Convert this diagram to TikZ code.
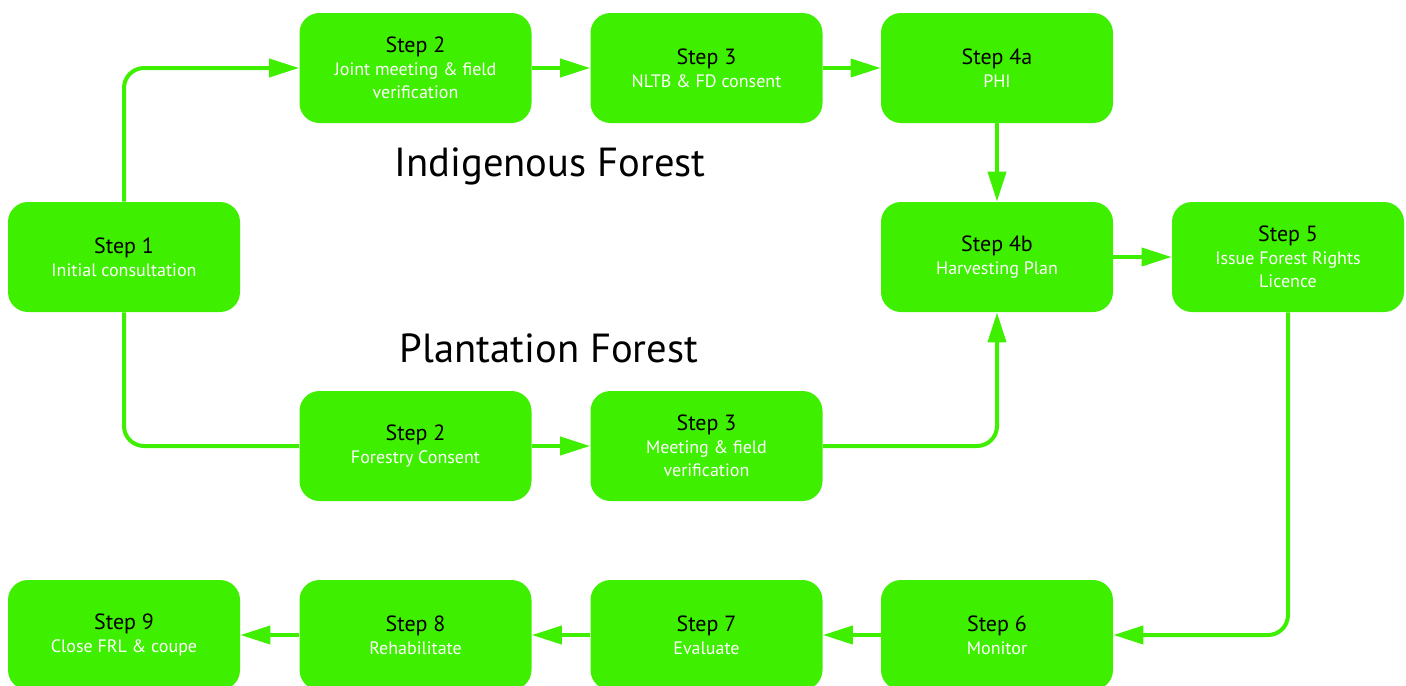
\documentclass[tikz,border=0pt]{standalone}
\usepackage{fontspec}
\setmainfont{PT Sans}
\usetikzlibrary{arrows.meta}
\definecolor{leaf}{RGB}{62,240,0}
\newcommand{\stepname}[1]{{\color{black}\fontsize{11}{12}\selectfont #1}\\[0pt]}

\begin{document}
\begin{tikzpicture}[x=0.5pt,y=-0.5pt,
  stepbox/.style={fill=leaf, rounded corners=10pt, minimum width=116pt, minimum height=55pt,
    align=center, inner sep=0pt, text=white, font=\fontsize{9}{11.5}\selectfont},
  title/.style={font=\fontsize{20.3}{24}\selectfont},
  link/.style={draw=leaf, line width=2pt, rounded corners=10pt, -{Triangle[length=15pt,width=9pt]}},
  plain/.style={draw=leaf, line width=2pt, rounded corners=10pt}]
\useasboundingbox (0,0) rectangle (1406,685);

% steps
\node[stepbox] (s1) at (124,257) {\stepname{Step 1}Initial consultation};
\node[stepbox] (i2) at (415.5,68) {\stepname{Step 2}Joint meeting \& field\\verification};
\node[stepbox] (i3) at (706.5,68) {\stepname{Step 3}NLTB \& FD consent};
\node[stepbox] (i4a) at (997,68) {\stepname{Step 4a}PHI};
\node[stepbox] (h4b) at (997,257) {\stepname{Step 4b}Harvesting Plan};
\node[stepbox] (s5) at (1288,257) {\stepname{Step 5}Issue Forest Rights\\Licence};
\node[stepbox] (p2) at (415.5,446) {\stepname{Step 2}Forestry Consent};
\node[stepbox] (p3) at (706.5,446) {\stepname{Step 3}Meeting \& field\\verification};
\node[stepbox] (s6) at (997,635) {\stepname{Step 6}Monitor};
\node[stepbox] (s7) at (706.5,635) {\stepname{Step 7}Evaluate};
\node[stepbox] (s8) at (415.5,635) {\stepname{Step 8}Rehabilitate};
\node[stepbox] (s9) at (124,635) {\stepname{Step 9}Close FRL \& coupe};

% titles
\node[title] (indig) at (550,166) {Indigenous Forest};
\node[title] (plant) at (549,348) {Plantation Forest};

% connectors
\draw[link] (s1.north) |- (i2.west);
\draw[plain] (s1.south) |- (p2.west);
\draw[link] (i2) -- (i3);
\draw[link] (i3) -- (i4a);
\draw[link] (i4a) -- (h4b);
\draw[link] (p2) -- (p3);
\draw[link] (p3.east) -| (h4b.south);
\draw[link] (h4b) -- (s5);
\draw[link] (s5.south) |- (s6.east);
\draw[link] (s6) -- (s7);
\draw[link] (s7) -- (s8);
\draw[link] (s8) -- (s9);
\end{tikzpicture}
\end{document}
